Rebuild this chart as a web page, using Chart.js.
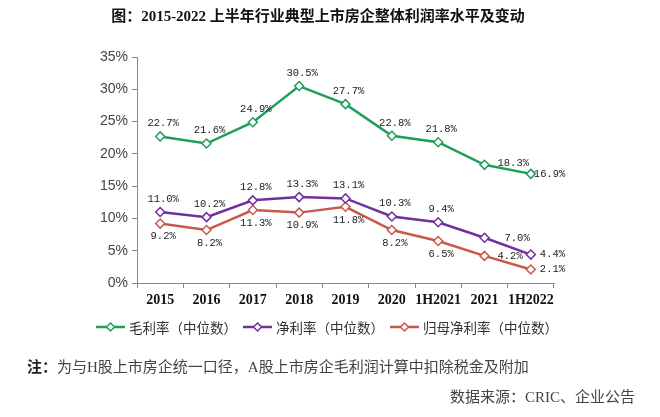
<!DOCTYPE html>
<html lang="zh">
<head>
<meta charset="UTF-8">
<title>2015-2022 上半年行业典型上市房企整体利润率水平及变动</title>
<script src="https://cdn.jsdelivr.net/npm/chart.js"></script>
<style>
  html, body { margin: 0; padding: 0; background: #fff; }
</style>
</head>
<body>
<canvas id="profitChart" width="660" height="417"></canvas>
<script>
// values
const categories = ['2015', '2016', '2017', '2018', '2019', '2020', '1H2021', '2021', '1H2022'];
const grossMargin = [22.7, 21.6, 24.9, 30.5, 27.7, 22.8, 21.8, 18.3, 16.9];
const netMargin = [11.0, 10.2, 12.8, 13.3, 13.1, 10.3, 9.4, 7.0, 4.4];
const parentNetMargin = [9.2, 8.2, 11.3, 10.9, 11.8, 8.2, 6.5, 4.2, 2.1];
const seriesNames = ['毛利率（中位数）', '净利率（中位数）', '归母净利率（中位数）'];
const yTicks = [0, 5, 10, 15, 20, 25, 30, 35];

const titleText = '图：2015-2022 上半年行业典型上市房企整体利润率水平及变动';
const noteText = '为与H股上市房企统一口径，A股上市房企毛利润计算中扣除税金及附加';
const sourceText = '数据来源：CRIC、企业公告';

const colors = ['#1f9e5a', '#7030a0', '#c9574c'];
const cjk = '"Noto Sans CJK SC", "Noto Sans", sans-serif';

// where each series puts its value labels (default + a few exceptions)
const labelPlacement = [
    { base: 'above', special: { 7: { dx: 13, dy: -2, align: 'left' }, 8: { dx: 3, dy: 0, align: 'left' } } },
    { base: 'above', special: { 7: { dx: 20, dy: 0, align: 'left' }, 8: { dx: 9, dy: 0, align: 'left' } } },
    { base: 'below', special: { 7: { dx: 13, dy: 0, align: 'left' }, 8: { dx: 9, dy: 0, align: 'left' } } }
];

const valueLabels = {
    id: 'valueLabels',
    afterDatasetsDraw(chart) {
        const ctx = chart.ctx;
        ctx.save();
        ctx.font = '10.5px "Liberation Mono", "DejaVu Sans Mono", monospace';
        ctx.fillStyle = '#222';
        ctx.textBaseline = 'middle';
        chart.data.datasets.forEach((ds, i) => {
            const meta = chart.getDatasetMeta(i);
            const place = labelPlacement[i];
            meta.data.forEach((pt, j) => {
                let p = place.special[j];
                if (!p) {
                    p = place.base === 'above' ? { dx: 3, dy: -13, align: 'center' } : { dx: 3, dy: 13, align: 'center' };
                }
                ctx.textAlign = p.align;
                ctx.fillText(ds.data[j].toFixed(1) + '%', pt.x + p.dx, pt.y + p.dy);
            });
        });
        ctx.restore();
    }
};

const decorations = {
    id: 'decorations',
    afterDraw(chart) {
        const ctx = chart.ctx;
        ctx.save();
        ctx.textBaseline = 'middle';

        // title
        ctx.fillStyle = '#111';
        ctx.font = 'bold 15px "Liberation Serif", ' + cjk;
        ctx.textAlign = 'center';
        ctx.fillText(titleText, 318, 17);

        // legend
        ctx.font = '13.5px ' + cjk;
        const lineLen = 29, gapText = 4, gapItem = 6;
        const widths = seriesNames.map(n => ctx.measureText(n).width);
        const total = widths.reduce((a, b) => a + b, 0) + 3 * (lineLen + gapText) + 2 * gapItem;
        let x = 327 - total / 2;
        const ly = 327;
        seriesNames.forEach((name, i) => {
            ctx.strokeStyle = colors[i];
            ctx.lineWidth = 2.5;
            ctx.beginPath();
            ctx.moveTo(x, ly);
            ctx.lineTo(x + lineLen, ly);
            ctx.stroke();
            const cx = x + lineLen / 2;
            ctx.lineWidth = 1.5;
            ctx.fillStyle = '#fff';
            ctx.beginPath();
            ctx.moveTo(cx, ly - 4);
            ctx.lineTo(cx + 4, ly);
            ctx.lineTo(cx, ly + 4);
            ctx.lineTo(cx - 4, ly);
            ctx.closePath();
            ctx.fill();
            ctx.stroke();
            ctx.fillStyle = '#333';
            ctx.textAlign = 'left';
            ctx.fillText(name, x + lineLen + gapText, ly + 1);
            x += lineLen + gapText + widths[i] + gapItem;
        });

        // note
        ctx.textAlign = 'left';
        ctx.fillStyle = '#222';
        ctx.font = 'bold 15px "Liberation Serif", ' + cjk;
        ctx.fillText('注：', 27, 368);
        const w = ctx.measureText('注：').width;
        ctx.fillStyle = '#444';
        ctx.font = '15px "Liberation Serif", ' + cjk;
        ctx.fillText(noteText, 27 + w, 368);

        // source
        ctx.textAlign = 'right';
        ctx.font = '15px "Liberation Serif", ' + cjk;
        ctx.fillText(sourceText, 635, 398);
        ctx.restore();
    }
};

const ctx = document.getElementById('profitChart').getContext('2d');
const chart = new Chart(ctx, {
    type: 'line',
    data: {
        labels: categories,
        datasets: [grossMargin, netMargin, parentNetMargin].map((d, i) => ({
            label: seriesNames[i],
            data: d,
            borderColor: colors[i],
            borderWidth: 2.5,
            pointStyle: 'rectRot',
            pointRadius: 4.5,
            pointBorderWidth: 1.5,
            pointBackgroundColor: '#fff',
            pointBorderColor: colors[i],
            tension: 0
        }))
    },
    options: {
        responsive: false,
        animation: false,
        devicePixelRatio: 1,
        layout: { padding: { top: 57, right: 106, bottom: 0, left: 0 } },
        plugins: {
            legend: { display: false },
            title: { display: false },
            tooltip: { enabled: false }
        },
        scales: {
            x: {
                offset: true,
                grid: { display: true, drawOnChartArea: false, drawTicks: true, tickLength: 5, color: '#888', offset: true },
                border: { display: true, color: '#888' },
                ticks: {
                    color: '#111',
                    padding: 4,
                    maxRotation: 0,
                    autoSkip: false,
                    font: { family: '"Liberation Serif", serif', weight: 'bold', size: 14 }
                },
                afterFit(scale) { scale.height = 134; }
            },
            y: {
                min: 0,
                max: 35,
                afterBuildTicks(scale) { scale.ticks = yTicks.map(v => ({ value: v })); },
                grid: { display: true, drawOnChartArea: false, drawTicks: true, tickLength: 5, color: '#888' },
                border: { display: true, color: '#888' },
                ticks: {
                    color: '#444',
                    padding: 4,
                    font: { family: '"Liberation Sans Narrow", "Liberation Sans", sans-serif', size: 14 },
                    callback: v => v + '%'
                },
                afterFit(scale) { scale.width = 137; }
            }
        }
    },
    plugins: [valueLabels, decorations]
});
</script>
</body>
</html>
